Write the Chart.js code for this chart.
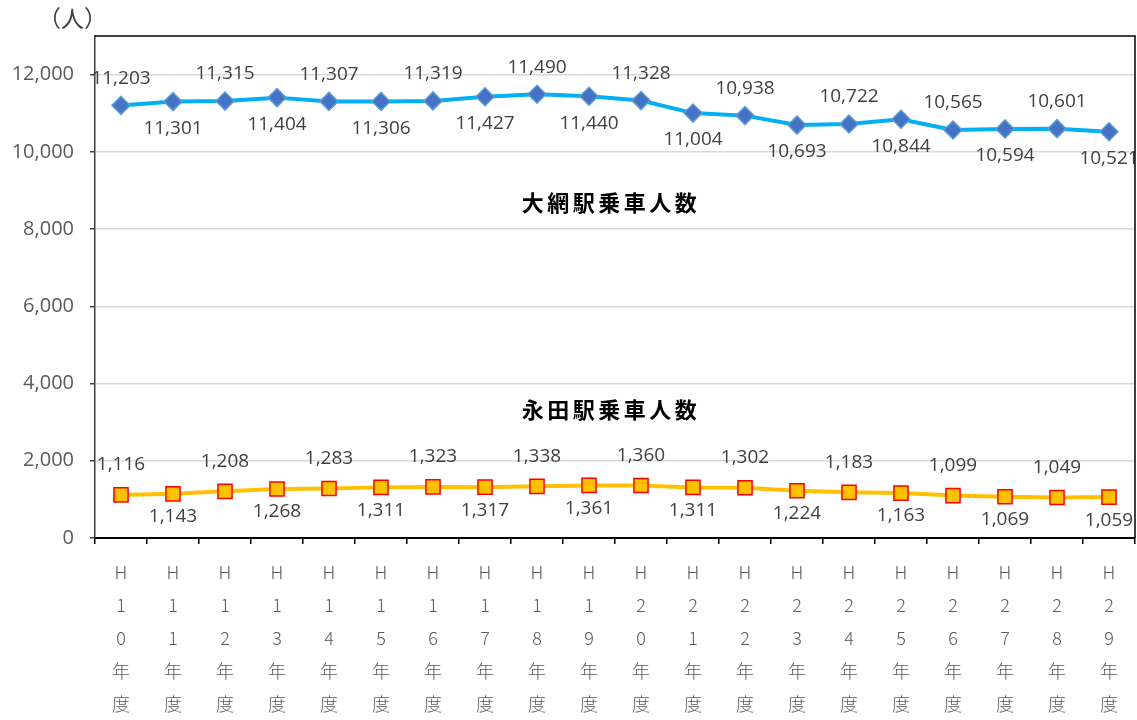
<!DOCTYPE html>
<html>
<head>
<meta charset="utf-8">
<script src="https://cdn.jsdelivr.net/npm/chart.js@4.4.1/dist/chart.umd.min.js"></script>
<style>
  html, body { margin: 0; padding: 0; background: #fff; }
  #wrap { width: 1137px; height: 720px; position: relative; }
</style>
</head>
<body>
<div id="wrap"><canvas id="c" width="1137" height="720"></canvas></div>
<script>
// 年度
const years = ['10', '11', '12', '13', '14', '15', '16', '17', '18', '19',
               '20', '21', '22', '23', '24', '25', '26', '27', '28', '29'];
const categories = years.map(y => ['H', y[0], y[1], '年', '度']);

// 乗車人数（人）
const oamiValues = [11203, 11301, 11315, 11404, 11307, 11306, 11319, 11427, 11490, 11440,
                    11328, 11004, 10938, 10693, 10722, 10844, 10565, 10594, 10601, 10521];
const nagataValues = [1116, 1143, 1208, 1268, 1283, 1311, 1323, 1317, 1338, 1361,
                      1360, 1311, 1302, 1224, 1183, 1163, 1099, 1069, 1049, 1059];

const seriesNames = ['大網駅乗車人数', '永田駅乗車人数'];
const seriesNameValues = [8680, 3320];   // 系列名を置く高さ（データ値）
const yTicks = [0, 2000, 4000, 6000, 8000, 10000, 12000];

const JP = '"Noto Sans CJK JP", "Noto Sans", sans-serif';
const NUM = '"Open Sans", "Noto Sans", sans-serif';

// ラベル位置（上, 下）
const labelOffsets = [[-27, 27], [-30, 23]];

// データラベル（交互に上・下）、系列名、単位、枠線
const labelPlugin = {
    id: 'labels',
    afterDatasetsDraw(chart) {
        const ctx = chart.ctx;
        ctx.save();
        ctx.font = '19px ' + NUM;
        ctx.fillStyle = '#404040';
        ctx.textAlign = 'center';
        ctx.textBaseline = 'middle';
        chart.data.datasets.forEach((ds, di) => {
            chart.getDatasetMeta(di).data.forEach((pt, i) => {
                const dy = labelOffsets[di][i % 2];
                ctx.fillText(ds.data[i].toLocaleString('en-US'), pt.x, pt.y + dy);
            });
        });

        const area = chart.chartArea;
        const cx = (area.left + area.right) / 2 - 4;
        ctx.font = 'bold 22px ' + JP;
        ctx.fillStyle = '#000';
        ctx.letterSpacing = '3.5px';
        seriesNames.forEach((name, i) => {
            ctx.fillText(name, cx, chart.scales.y.getPixelForValue(seriesNameValues[i]));
        });
        ctx.letterSpacing = '0px';

        // 単位
        ctx.font = '23px ' + JP;
        ctx.fillStyle = '#404040';
        ctx.textAlign = 'left';
        ctx.fillText('（人）', 38, 18);

        // 枠
        ctx.strokeStyle = '#000';
        ctx.lineWidth = 1.5;
        ctx.beginPath();
        ctx.moveTo(area.left, area.top);
        ctx.lineTo(area.right, area.top);
        ctx.lineTo(area.right, area.bottom);
        ctx.stroke();
        ctx.restore();
    }
};

new Chart(document.getElementById('c'), {
    type: 'line',
    data: {
        labels: categories,
        datasets: [
            {
                label: seriesNames[0],
                data: oamiValues,
                borderColor: '#00B0F0',
                borderWidth: 4,
                pointStyle: 'rectRot',
                pointRadius: 9,
                pointBackgroundColor: '#4472C4',
                pointBorderColor: '#5B9BD5',
                pointBorderWidth: 1.5,
                tension: 0
            },
            {
                label: seriesNames[1],
                data: nagataValues,
                borderColor: '#FFC000',
                borderWidth: 4,
                pointStyle: 'rect',
                pointRadius: 10,
                pointBackgroundColor: '#FFC000',
                pointBorderColor: '#FF0000',
                pointBorderWidth: 1.5,
                tension: 0
            }
        ]
    },
    options: {
        responsive: false,
        animation: false,
        maintainAspectRatio: false,
        layout: { autoPadding: false, padding: { top: 36, right: 2, left: 0, bottom: 0 } },
        plugins: {
            legend: { display: false },
            tooltip: { enabled: false }
        },
        scales: {
            x: {
                offset: true,
                grid: {
                    offset: true,
                    drawOnChartArea: false,
                    drawTicks: true,
                    tickLength: 6,
                    color: '#000',
                    lineWidth: 1.5
                },
                border: { color: '#000', width: 2 },
                ticks: {
                    maxRotation: 0,
                    autoSkip: false,
                    padding: 12,
                    color: '#595959',
                    font: { family: JP, size: 18, weight: 300, lineHeight: '33px' }
                },
                afterFit(scale) { scale.height = 182; }
            },
            y: {
                min: 0,
                max: 13000,
                afterBuildTicks(scale) {
                    scale.ticks = yTicks.map(v => ({ value: v }));
                },
                grid: {
                    color: '#D9D9D9',
                    lineWidth: 1.5,
                    tickLength: 5,
                    tickColor: '#404040'
                },
                border: { color: '#404040', width: 1.5 },
                ticks: {
                    padding: 16,
                    color: '#595959',
                    font: { family: NUM, size: 20 },
                    callback: v => v.toLocaleString('en-US')
                },
                afterFit(scale) { scale.width = 95; }
            }
        }
    },
    plugins: [labelPlugin]
});
</script>
</body>
</html>
